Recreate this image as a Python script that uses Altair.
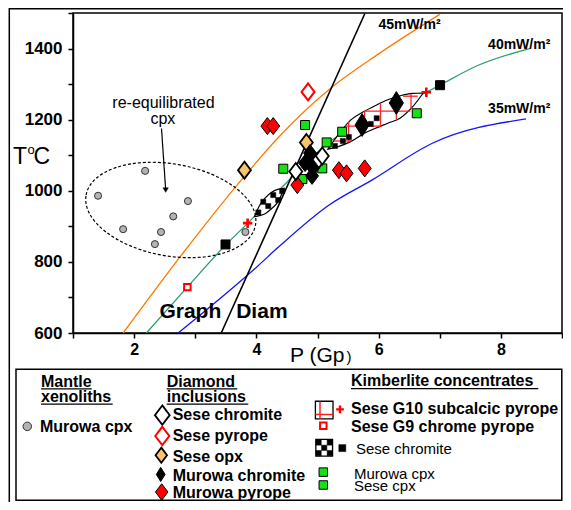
import altair as alt
import pandas as pd

FONT = "Liberation Sans"
W, H = 489, 320          # plot area
OX, OY = 73, 13          # plot origin on the page
PAGE_RIGHT = 563         # rightmost page column the svg may use without the page growing
PAGE_BOTTOM = 502        # lowest page row the svg may use without the page growing

# ---------------- data ----------------
geo45_P = [1.82, 2.80, 3.80, 4.37, 5.24, 6.00, 7.00]
geo45_T = [600, 825, 1040, 1152, 1292, 1385, 1496]
geo40_P = [2.20, 2.87, 3.50, 3.86, 4.43, 5.24, 6.00, 6.78, 7.00, 7.63, 8.47]
geo40_T = [600, 729, 848, 909, 1012, 1143, 1210, 1277, 1297, 1353, 1400]
geo35_P = [2.72, 4.02, 4.37, 5.19, 5.89, 6.87, 8.41]
geo35_T = [600, 788, 843, 960, 1030, 1133, 1202]
gd_P = [3.425, 5.773]
gd_T = [600, 1498]

murowa_cpx_P = [1.41, 2.18, 1.82, 2.34, 2.44, 2.64, 2.88, 3.82]
murowa_cpx_T = [986, 1056, 892, 850, 884, 928, 971, 884]

sese_opx_P = [3.805, 4.818]
sese_opx_T = [1058, 1136]
sese_pyrope_P = [4.845]
sese_pyrope_T = [1278]
murowa_pyrope_P = [4.18, 4.276, 4.67, 5.35, 5.475, 5.773]
murowa_pyrope_T = [1182, 1182, 1016, 1058, 1049, 1063]
sese_chromite_P = [4.645, 4.996, 5.078]
sese_chromite_T = [1054, 1082, 1098]
murowa_chromite_P = [4.797, 4.878, 4.927, 4.911]
murowa_chromite_T = [1078, 1106, 1064, 1042]
murowa_chromite_big_P = [5.73, 6.29]
murowa_chromite_big_T = [1185, 1247]

cpx_kimb_P = [4.797, 4.44, 5.15, 5.078, 4.753, 5.404, 6.624]
cpx_kimb_T = [1185, 1062, 1136, 1063, 1033, 1166, 1218]
chromite_kimb_P = [3.495, 7.005]
chromite_kimb_T = [849, 1297]
g10_plus_P = [3.857, 6.78]
g10_plus_T = [909, 1277]
g9_P = [2.871]
g9_T = [729]

# G10 field (lens) and its grid
lens_P = [5.17, 5.35, 5.55, 5.75, 5.95, 6.15, 6.35, 6.55, 6.73]
lens_lo = [1117, 1125, 1139, 1160, 1176, 1190, 1204, 1235, 1275]
lens_hi = [1117, 1160, 1200, 1222, 1240, 1256, 1267, 1274, 1275]
grid_v_P = [5.51, 5.77, 6.03, 6.29, 6.53]
grid_v_lo = [1136, 1161, 1182, 1200, 1230]
grid_v_hi = [1193, 1224, 1247, 1264, 1273]
grid_h_T = [1266, 1224, 1182, 1140]
grid_h_P1 = [6.40, 5.77, 5.45, 5.27]
grid_h_P2 = [6.64, 6.52, 6.04, 5.56]

# chromite (checkered) field
small_P = [3.97, 4.05, 4.15, 4.25, 4.35, 4.455]
small_lo = [927, 930, 936, 950, 968, 1007]
small_hi = [927, 958, 981, 996, 1004, 1007]
check_P = [4.032, 4.113, 4.194, 4.276, 4.357, 4.422, 5.285, 5.415, 5.513, 5.871, 5.968]
check_T = [939, 969, 957, 988, 974, 999, 1126, 1140, 1151, 1188, 1204]

x_ticks = [1, 2, 3, 4, 5, 6, 7, 8, 9]
y_ticks = [600, 700, 800, 900, 1000, 1100, 1200, 1300, 1400, 1500]

# ---------------- scales / axes ----------------
xsc = alt.Scale(domain=[1, 9], nice=False, zero=False)
ysc = alt.Scale(domain=[600, 1500], nice=False, zero=False)
xaxis = alt.Axis(values=x_ticks, labelExpr="datum.value % 2 == 0 ? datum.label : ''",
                 format="d", title=None, grid=False, tickSize=5, tickWidth=1.5,
                 tickColor="black", domainColor="black", domainWidth=1.5,
                 labelFont=FONT, labelFontSize=16, labelFontWeight="bold",
                 labelColor="black", labelPadding=3, labelOverlap=False, labelFlush=False)
yaxis = alt.Axis(values=y_ticks,
                 labelExpr="datum.value % 200 == 0 && datum.value < 1500 ? datum.label : ''",
                 format="d", title=None, grid=False, tickSize=5, tickWidth=1.5,
                 tickColor="black", domainColor="black", domainWidth=1.5,
                 labelFont=FONT, labelFontSize=17, labelFontWeight="bold",
                 labelColor="black", labelPadding=6, labelOverlap=False, labelFlush=False)


def X(f="P"):
    return alt.X(f"{f}:Q", scale=xsc, axis=xaxis)


def Y(f="T"):
    return alt.Y(f"{f}:Q", scale=ysc, axis=yaxis)


def L(y):
    # legend rows, fitted into the rows the page can show
    return 369.3 + (y - 372.3) * 0.961


DIAMOND = "M0,-1L0.76,0L0,1L-0.76,0Z"
DIAMOND_N = "M0,-1L0.62,0L0,1L-0.62,0Z"
PLUS = "M-1,0L1,0M0,-1L0,1"
ELLIPSE = "M-1,0A1,0.535 0 1,1 1,0A1,0.535 0 1,1 -1,0Z"

dummy = pd.DataFrame({"d": [0]})
layers = []


def line(P, T, color, w):
    df = pd.DataFrame({"P": P, "T": T})
    return alt.Chart(df).mark_line(color=color, strokeWidth=w, interpolate="monotone").encode(x=X(), y=Y())


def pts(P, T, shape, size, fill, stroke, sw=1.5, filled=True):
    df = pd.DataFrame({"P": P, "T": T})
    kw = dict(shape=shape, size=size, stroke=stroke, strokeWidth=sw, opacity=1)
    if filled:
        kw.update(filled=True, fill=fill)
    else:
        kw.update(filled=False)
    return alt.Chart(df).mark_point(**kw).encode(x=X(), y=Y())


def dtext(s, P, T, size, weight="bold", align="center", baseline="middle"):
    df = pd.DataFrame({"P": [P], "T": [T]})
    return alt.Chart(df).mark_text(text=s, font=FONT, fontSize=size, fontWeight=weight,
                                   align=align, baseline=baseline, color="black").encode(x=X(), y=Y())


def ptext(s, x, y, size, weight="bold", align="left", baseline="alphabetic"):
    return alt.Chart(dummy).mark_text(text=s, font=FONT, fontSize=size, fontWeight=weight,
                                      align=align, baseline=baseline, color="black").encode(
        x=alt.value(x - OX), y=alt.value(y - OY))


def prule(x1, y1, x2, y2, color="black", w=1.5):
    return alt.Chart(dummy).mark_rule(color=color, strokeWidth=w).encode(
        x=alt.value(x1 - OX), x2=alt.value(x2 - OX), y=alt.value(y1 - OY), y2=alt.value(y2 - OY))


def psym(x, y, shape, size, fill, stroke, sw=1.5):
    return alt.Chart(dummy).mark_point(shape=shape, size=size, filled=True, fill=fill, stroke=stroke,
                                       strokeWidth=sw, opacity=1).encode(
        x=alt.value(x - OX), y=alt.value(y - OY))


# geotherms and graphite/diamond line
layers += [line(geo45_P, geo45_T, "#ff7a00", 1.3),
           line(geo40_P, geo40_T, "#2e9e6b", 1.3),
           line(geo35_P, geo35_T, "#1414ff", 1.3),
           line(gd_P, gd_T, "black", 1.6)]

# re-equilibrated ellipse + arrow
layers.append(alt.Chart(pd.DataFrame({"P": [2.60], "T": [946]})).mark_point(
    shape=ELLIPSE, size=29584, angle=10, filled=False, stroke="black", strokeWidth=1.2,
    strokeDash=[3, 2], opacity=1).encode(x=X(), y=Y()))
layers.append(alt.Chart(pd.DataFrame({"P": [2.448], "T": [1175], "P2": [2.515], "T2": [1005]}))
              .mark_rule(color="black", strokeWidth=1.2).encode(x=X(), y=Y(), x2="P2:Q", y2="T2:Q"))
layers.append(pts([2.516], [1002], "triangle-down", 28, "black", "black", 0.5))

layers.append(pts(murowa_cpx_P, murowa_cpx_T, "circle", 50, "#b3b3b3", "#333333", 1))

# checkered chromite field
small_df = pd.DataFrame({"P": small_P, "lo": small_lo, "hi": small_hi})
layers.append(alt.Chart(small_df).mark_area(fill="white", stroke="black", strokeWidth=1.2,
                                            interpolate="monotone", opacity=1)
              .encode(x=X(), y=Y("lo"), y2="hi:Q"))

# G10 lens with red grid
lens_df = pd.DataFrame({"P": lens_P, "lo": lens_lo, "hi": lens_hi})
layers.append(alt.Chart(lens_df).mark_area(fill="white", stroke="black", strokeWidth=1.2,
                                           interpolate="monotone", opacity=1)
              .encode(x=X(), y=Y("lo"), y2="hi:Q"))
gv = pd.DataFrame({"P": grid_v_P, "lo": grid_v_lo, "hi": grid_v_hi})
layers.append(alt.Chart(gv).mark_rule(color="#ff2020", strokeWidth=1.3).encode(x=X(), y=Y("lo"), y2="hi:Q"))
gh = pd.DataFrame({"T": grid_h_T, "P1": grid_h_P1, "P2": grid_h_P2})
layers.append(alt.Chart(gh).mark_rule(color="#ff2020", strokeWidth=1.3).encode(y=Y(), x=X("P1"), x2="P2:Q"))
layers.append(pts(check_P, check_T, "square", 26, "black", "black", 0.5))

# kimberlite concentrates
layers.append(pts(cpx_kimb_P, cpx_kimb_T, "square", 81, "#16e016", "black", 1))
layers.append(pts(chromite_kimb_P, chromite_kimb_T, "square", 81, "black", "black", 1))
layers.append(pts(g9_P, g9_T, "square", 42, "white", "#ff0000", 2))

# diamond inclusions
layers.append(pts(sese_opx_P, sese_opx_T, DIAMOND, 289, "#fbc46a", "black", 1.8))
layers.append(pts(sese_pyrope_P, sese_pyrope_T, DIAMOND, 289, "white", "#ff0000", 2))
layers.append(pts(murowa_pyrope_P, murowa_pyrope_T, DIAMOND, 289, "#ff0000", "black", 1))
layers.append(pts(sese_chromite_P, sese_chromite_T, DIAMOND, 289, "white", "black", 1.8))
layers.append(pts(murowa_chromite_P, murowa_chromite_T, DIAMOND, 289, "black", "black", 1))
layers.append(pts(murowa_chromite_big_P, murowa_chromite_big_T, DIAMOND_N, 520, "black", "black", 1))
layers.append(pts(g10_plus_P, g10_plus_T, PLUS, 90, "red", "#ff0000", 2.6, filled=False))

# in-plot labels
layers += [dtext("45mW/m²", 6.505, 1465, 14),
           dtext("40mW/m²", 8.30, 1410, 14),
           dtext("35mW/m²", 8.30, 1230, 14),
           dtext("Graph", 2.92, 660, 21),
           dtext("Diam", 4.09, 660, 21),
           dtext("re-equilibrated", 2.48, 1247, 16, "normal"),
           dtext("cpx", 2.47, 1202, 16, "normal")]

# axis titles
layers += [ptext("T", 13, 163.5, 23, "normal"),
           ptext("o", 27.5, 153.5, 13, "normal"),
           ptext("C", 33.5, 163.5, 23, "normal"),
           ptext("P (Gp", 290, 362, 21, "normal"),
           ptext(")", 346.5, 362, 15, "normal")]

# outer frame pieces
layers += [prule(9, 8.8, PAGE_RIGHT, 8.8, "black", 1.5),
           prule(9.3, 6, 9.3, 510, "black", 1.5)]

# legend box
LEG_RIGHT = PAGE_RIGHT - 1.2
layers.append(alt.Chart(dummy).mark_rect(fill="white", fillOpacity=0, stroke="black", strokeWidth=1.5)
              .encode(x=alt.value(16 - OX), x2=alt.value(LEG_RIGHT - OX),
                      y=alt.value(L(372.3) - OY), y2=alt.value(L(508.5) - OY)))

# legend: mantle xenoliths
layers += [ptext("Mantle", 41, L(390.5), 16), prule(41, L(392.6), 91.7, L(392.6), "black", 1.3),
           ptext("xenoliths", 41, L(406.5), 16), prule(41, L(408.6), 112.7, L(408.6), "black", 1.3),
           psym(27.3, L(431.7), "circle", 72, "#b3b3b3", "#333333", 1),
           ptext("Murowa cpx", 40, L(438), 16)]

# legend: diamond inclusions
layers += [ptext("Diamond", 166.7, L(390.5), 16), prule(166.7, L(392.6), 237.3, L(392.6), "black", 1.3),
           ptext("inclusions", 166.7, L(406.5), 16), prule(166.7, L(408.6), 248.3, L(408.6), "black", 1.3),
           psym(162.3, L(420), DIAMOND, 380, "white", "black", 1.8),
           ptext("Sese chromite", 172.7, L(425), 16),
           psym(162.3, L(441.7), DIAMOND, 340, "white", "#ff0000", 2),
           ptext("Sese pyrope", 172.7, L(447.3), 16),
           psym(161.3, L(461.7), DIAMOND, 230, "#fbc46a", "black", 1.8),
           ptext("Sese opx", 172.7, L(468.3), 16),
           psym(160.7, L(481.7), DIAMOND_N, 200, "black", "black", 1),
           ptext("Murowa chromite", 172.7, L(488.3), 16),
           psym(161.7, L(500), DIAMOND, 270, "#ff0000", "black", 1),
           ptext("Murowa pyrope", 172.7, L(506.2), 16)]

# legend: kimberlite concentrates
layers += [ptext("Kimberlite concentrates", 351, L(389.3), 16),
           prule(351, L(392.4), 538.3, L(392.4), "black", 1.3),
           psym(324.2, L(414.7), "square", 310, "white", "black", 1.3),
           prule(320, L(414.7) - 8.6, 320, L(414.7) + 8.6, "#ff2020", 1.5),
           prule(315.4, L(419.3), 333.0, L(419.3), "#ff2020", 1.5),
           alt.Chart(dummy).mark_point(shape=PLUS, size=60, filled=False, stroke="#ff0000",
                                       strokeWidth=2.4, opacity=1).encode(
               x=alt.value(340 - OX), y=alt.value(L(414) - OY)),
           ptext("Sese G10 subcalcic pyrope", 351, L(419), 16),
           psym(323.3, L(431), "square", 42, "white", "#ff0000", 2),
           ptext("Sese G9 chrome pyrope", 351, L(437.3), 16),
           psym(324.2, L(454), "square", 280, "white", "black", 1.3),
           psym(318.6, L(454) - 5.3, "square", 28, "black", "black", 0.5),
           psym(329.8, L(454) - 5.3, "square", 28, "black", "black", 0.5),
           psym(324.2, L(454), "square", 28, "black", "black", 0.5),
           psym(318.6, L(454) + 5.3, "square", 28, "black", "black", 0.5),
           psym(329.8, L(454) + 5.3, "square", 28, "black", "black", 0.5),
           psym(342.3, L(454.3), "square", 49, "black", "black", 0.5),
           ptext("Sese chromite", 356, L(460), 15, "normal"),
           psym(323.3, L(479.3), "square", 72, "#16e016", "black", 1),
           ptext("Murowa cpx", 354, L(486.7), 15, "normal"),
           psym(323.3, L(492.7), "square", 72, "#16e016", "black", 1),
           ptext("Sese   cpx", 354, L(499.3), 15, "normal")]

chart = alt.layer(*layers).properties(
    width=W, height=H,
    padding={"left": OX - 8, "top": OY - 8, "right": PAGE_RIGHT - OX - W, "bottom": PAGE_BOTTOM - OY - H},
    autosize=alt.AutoSizeParams(type="none"),
    background="white",
).configure_view(stroke="black", strokeWidth=1.5)

chart.save("out.html", embed_options={"renderer": "svg", "actions": False})
